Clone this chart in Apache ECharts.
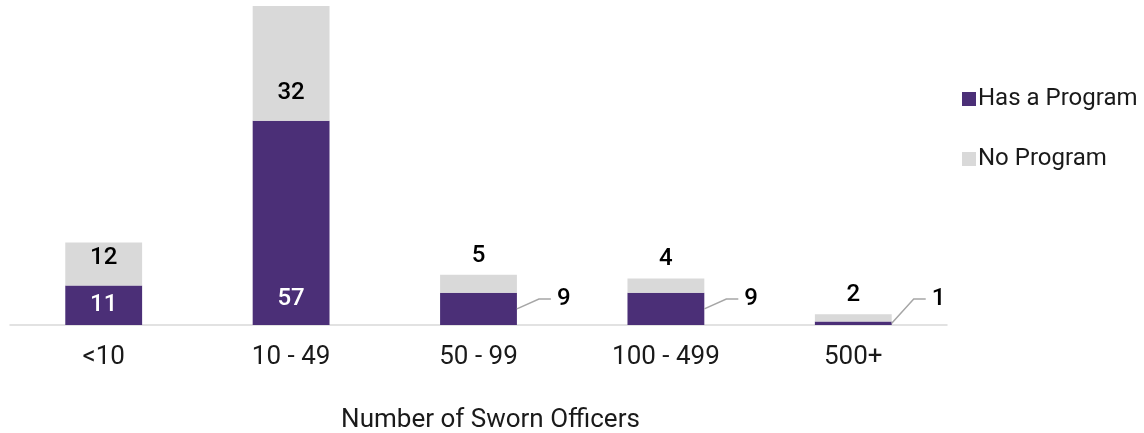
<!DOCTYPE html>
<html>
<head>
<meta charset="utf-8">
<script src="https://cdn.jsdelivr.net/npm/echarts@6/dist/echarts.min.js"></script>
<style>
  html, body { margin: 0; padding: 0; background: #fff; }
  #chart { width: 1144px; height: 433px; }
</style>
</head>
<body>
<div id="chart"></div>
<script>
const categories = ["<10", "10 - 49", "50 - 99", "100 - 499", "500+"]
const hasProgram = [11, 57, 9, 9, 1]
const noProgram = [12, 32, 5, 4, 2]
const seriesNames = ["Has a Program", "No Program"]

const PURPLE = "#4b2f77"
const GRAY = "#d9d9d9"
const FONT = "Roboto"
const BAR_RATIO = 0.41

// bars too short for an inside label
const purpleOutside = [false, false, true, true, true]
const grayOutside = [false, false, true, true, true]

const chart = echarts.init(document.getElementById("chart"))

const purpleData = hasProgram.map((v, i) => {
  if (purpleOutside[i]) {
    return { value: v, label: { show: false } }
  }
  return {
    value: v,
    label: i === 0
      ? { position: "inside" }
      : { position: "insideBottom", distance: 14 },
  }
})

const grayData = noProgram.map((v, i) => ({
  value: v,
  label: grayOutside[i]
    ? { position: "top", distance: 7 }
    : { position: "insideBottom", distance: 16 },
}))

// leader-line labels for the short purple bars
const calloutData = hasProgram
  .map((v, i) => [i, v])
  .filter((d) => purpleOutside[d[0]])

const renderCallout = (params, api) => {
  const idx = api.value(0)
  const val = api.value(1)
  const base = api.coord([idx, 0])
  const top = api.coord([idx, val])
  const barW = api.size([1, 0])[0] * BAR_RATIO
  const x0 = base[0] + barW / 2
  const y0 = (base[1] + top[1]) / 2
  const ly = base[1] - 26
  return {
    type: "group",
    children: [
      {
        type: "polyline",
        shape: { points: [[x0, y0], [x0 + 22, ly], [x0 + 34, ly]] },
        style: { stroke: "#a6a6a6", lineWidth: 1.5, fill: null },
      },
      {
        type: "text",
        style: {
          text: String(val),
          x: x0 + 40,
          y: ly,
          verticalAlign: "middle",
          align: "left",
          font: "500 24px " + FONT,
          fill: "#000",
        },
      },
    ],
  }
}

const option = {
  animation: false,
  grid: { left: 10, right: 197, top: 6, bottom: 108, containLabel: false, outerBoundsMode: "none" },
  legend: {
    orient: "vertical",
    left: 957,
    top: 82,
    itemWidth: 14,
    itemHeight: 14,
    itemGap: 36,
    icon: "rect",
    textStyle: { fontFamily: FONT, fontSize: 24, color: "#1a1a1a", padding: [0, 0, 0, -3] },
    data: seriesNames,
  },
  xAxis: {
    type: "category",
    data: categories,
    axisLine: { lineStyle: { color: "#d9d9d9", width: 1.5 } },
    axisTick: { show: false },
    axisLabel: { fontFamily: FONT, fontSize: 26, color: "#1a1a1a", margin: 19 },
    name: "Number of Sworn Officers",
    nameLocation: "middle",
    nameGap: 82,
    nameTextStyle: { fontFamily: FONT, fontSize: 26, color: "#1a1a1a", padding: [0, 0, 0, 24] },
  },
  yAxis: { type: "value", min: 0, max: 89, show: false },
  series: [
    {
      name: seriesNames[0],
      type: "bar",
      stack: "total",
      barWidth: BAR_RATIO * 100 + "%",
      itemStyle: { color: PURPLE },
      label: { show: true, fontFamily: FONT, fontSize: 24, fontWeight: 500, color: "#fff" },
      data: purpleData,
    },
    {
      name: seriesNames[1],
      type: "bar",
      stack: "total",
      itemStyle: { color: GRAY },
      label: { show: true, fontFamily: FONT, fontSize: 24, fontWeight: 500, color: "#000" },
      data: grayData,
    },
    {
      type: "custom",
      renderItem: renderCallout,
      data: calloutData,
      silent: true,
      z: 5,
    },
  ],
}

chart.setOption(option)
</script>
</body>
</html>
